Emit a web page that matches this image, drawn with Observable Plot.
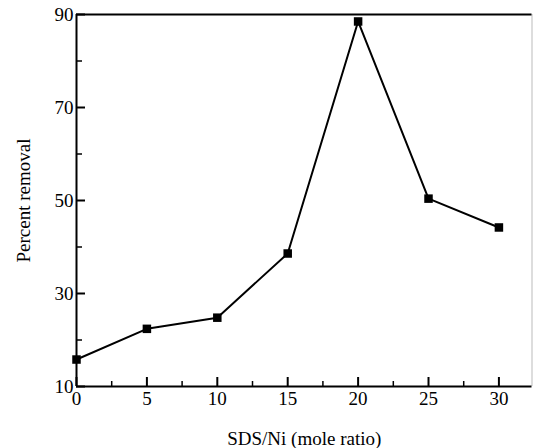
<!DOCTYPE html>
<html>
<head>
<meta charset="utf-8">
<script src="https://cdn.jsdelivr.net/npm/d3@7"></script>
<script src="https://cdn.jsdelivr.net/npm/@observablehq/plot@0.6"></script>
<style>
html,body{margin:0;padding:0;background:#fff;}
svg text{font-family:"Liberation Serif","Times New Roman",serif;font-size:19px;fill:#000;}
</style>
</head>
<body>
<div id="chart"></div>
<script>
const ratios = [0, 5, 10, 15, 20, 25, 30];
const removal = [15.8, 22.4, 24.8, 38.6, 88.5, 50.4, 44.2];
const xMajor = [0, 5, 10, 15, 20, 25, 30];
const xMinor = [2.5, 7.5, 12.5, 17.5, 22.5, 27.5];
const yMajor = [10, 30, 50, 70, 90];
const yMinor = [20, 40, 60, 80];

const data = ratios.map((r, i) => ({r, v: removal[i]}));

const W = 533, H = 448, ML = 76, MR = 1.5, MT = 14, MB = 62;
const PW = W - ML - MR, PH = H - MT - MB;
const xDom = [0, 32.35], yDom = [10, 90];

const chart = Plot.plot({
  width: W,
  height: H,
  marginLeft: ML,
  marginRight: MR,
  marginTop: MT,
  marginBottom: MB,
  style: {fontFamily: "Liberation Serif, serif", fontSize: "19px", color: "#000", background: "#fff"},
  x: {domain: xDom, label: null},
  y: {domain: yDom, label: null},
  marks: [
    Plot.ruleX([xDom[1]], {stroke: "#bbb", strokeWidth: 1}),
    Plot.ruleY([yDom[1]], {stroke: "#000", strokeWidth: 2}),
    Plot.tickX(xMajor, {x: d => d, insetTop: PH - 9, stroke: "#000", strokeWidth: 2}),
    Plot.tickX(xMinor, {x: d => d, insetTop: PH - 5, stroke: "#000", strokeWidth: 1.5}),
    Plot.tickY(yMajor, {y: d => d, insetRight: PW - 9, stroke: "#000", strokeWidth: 2}),
    Plot.tickY(yMinor, {y: d => d, insetRight: PW - 6, stroke: "#000", strokeWidth: 1.5}),
    Plot.axisX(xMajor, {tickSize: 0, tickPadding: 5, label: "SDS/Ni (mole ratio)", labelAnchor: "center", labelArrow: "none", labelOffset: 58}),
    Plot.axisY(yMajor, {tickSize: 0, tickPadding: 3, label: "Percent removal", labelAnchor: "center", labelArrow: "none", labelOffset: 60}),
    Plot.ruleX([xDom[0]], {stroke: "#000", strokeWidth: 2}),
    Plot.ruleY([yDom[0]], {stroke: "#000", strokeWidth: 2}),
    Plot.line(data, {x: "r", y: "v", stroke: "#000", strokeWidth: 2}),
    Plot.dot(data, {x: "r", y: "v", symbol: "square", r: 4.8, fill: "#000", stroke: "none"})
  ]
});
document.getElementById("chart").appendChild(chart);
</script>
</body>
</html>
